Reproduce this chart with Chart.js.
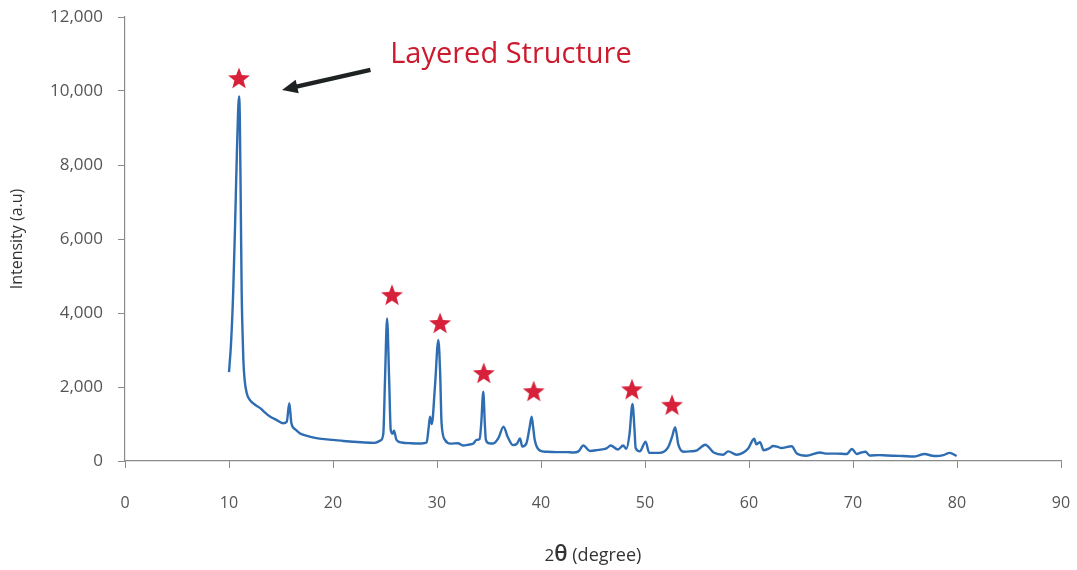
<!DOCTYPE html>
<html>
<head>
<meta charset="utf-8">
<script src="https://cdn.jsdelivr.net/npm/chart.js@4/dist/chart.umd.min.js"></script>
<style>
  html, body { margin: 0; padding: 0; background: #fff; }
  #wrap { width: 1077px; height: 570px; position: relative; }
</style>
</head>
<body>
<div id="wrap"><canvas id="xrd"></canvas></div>
<script>
(function () {
  'use strict';

  // ── XRD pattern (2θ in degrees, intensity a.u.) ────
  var twoTheta = [
    10.0, 10.2, 10.4, 10.58, 10.74, 10.88, 10.96, 11.04, 11.12, 11.22, 11.3, 11.38, 11.5, 11.7,
    12.0, 12.5, 13.0, 13.5, 13.94, 14.5, 15.2, 15.55, 15.8, 16.0, 16.4, 16.8, 17.5, 18.4, 19.2,
    20.0, 21.0, 22.0, 23.0, 24.0, 24.6, 24.84, 25.0, 25.2, 25.4, 25.55, 25.75, 25.87, 26.1, 26.6,
    27.5, 28.5, 29.0, 29.2, 29.33, 29.5, 29.8, 30.13, 30.3, 30.44, 30.77, 31.3, 32.0, 32.5, 33.0,
    33.5, 33.8, 34.1, 34.25, 34.45, 34.6, 34.7, 35.0, 35.4, 35.9, 36.4, 36.8, 37.3, 37.7, 37.98,
    38.2, 38.6, 38.9, 39.1, 39.25, 39.4, 39.9, 40.5, 41.5, 42.5, 43.1, 43.6, 44.07, 44.7, 45.5,
    46.3, 46.7, 47.4, 47.9, 48.2, 48.5, 48.8, 49.0, 49.1, 49.5, 50.06, 50.4, 51.4, 52.2, 52.6,
    52.9, 53.2, 53.7, 54.3, 55.0, 55.8, 56.6, 57.5, 58.0, 58.8, 59.4, 59.9, 60.5, 60.7, 61.06,
    61.4, 62.0, 62.3, 62.7, 63.1, 64.1, 64.6, 65.5, 66.8, 67.5, 68.4, 69.4, 69.9, 70.35, 70.8,
    71.2, 71.6, 72.5, 73.2, 74.0, 74.8, 75.8, 76.9, 77.5, 78.0, 78.7, 79.3, 79.97
  ];
  var intensity = [
    2400, 3200, 4540, 6330, 8135, 9500, 9850, 9300, 7240, 4540, 3500, 2730, 2200, 1840,
    1650, 1520, 1430, 1300, 1200, 1120, 1020, 1060, 1560, 1020, 850, 750, 680, 620, 590,
    570, 540, 520, 500, 490, 560, 745, 2190, 3850, 2190, 840, 740, 820, 570, 500,
    480, 475, 500, 900, 1200, 1000, 2000, 3270, 2400, 1020, 570, 470, 480, 420, 440,
    475, 570, 600, 1000, 1870, 1000, 570, 480, 475, 620, 930, 650, 430, 470, 610,
    390, 480, 900, 1200, 900, 570, 280, 250, 240, 240, 230, 260, 420, 270, 300,
    340, 420, 310, 420, 330, 700, 1540, 800, 350, 260, 520, 220, 220, 360, 650,
    915, 450, 250, 260, 290, 440, 230, 170, 260, 170, 220, 330, 600, 450, 510,
    290, 350, 405, 390, 350, 400, 200, 140, 230, 200, 200, 190, 325, 190, 230,
    250, 150, 160, 150, 140, 135, 120, 190, 150, 135, 160, 220, 135
  ];

  // peaks flagged with a star
  var starX = [10.96, 25.67, 30.3, 34.5, 39.3, 48.75, 52.6];
  var starY = [10350, 4490, 3730, 2380, 1890, 1940, 1520];

  var xTicks = { min: 0, max: 90, step: 10 };
  var yTicks = { min: 0, max: 12000, step: 2000 };

  var series = twoTheta.map(function (x, i) { return { x: x, y: intensity[i] }; });
  var stars = starX.map(function (x, i) { return { x: x, y: starY[i] }; });

  // filled five point star used as point image
  function starImage(size, color) {
    var c = document.createElement('canvas');
    c.width = size; c.height = size;
    var g = c.getContext('2d');
    var cx = size / 2, cy = size / 2 + 1, ro = size / 2 - 0.5, ri = ro * 0.42;
    g.beginPath();
    for (var k = 0; k < 10; k++) {
      var r = k % 2 === 0 ? ro : ri;
      var a = -Math.PI / 2 + k * Math.PI / 5;
      g.lineTo(cx + r * Math.cos(a), cy + r * Math.sin(a));
    }
    g.closePath();
    g.fillStyle = color;
    g.fill();
    return c;
  }

  var FONT = "'Open Sans', 'DejaVu Sans', sans-serif";
  var AXIS = '#8a8a8a';

  // ── annotation, arrow and the 2θ axis title ────────────────────────────────
  var extras = {
    id: 'extras',
    afterDraw: function (chart) {
      var ctx = chart.ctx;
      var xs = chart.scales.x, ys = chart.scales.y;
      ctx.save();

      ctx.fillStyle = '#cc1a2e';
      ctx.font = '29px ' + FONT;
      ctx.textBaseline = 'alphabetic';
      ctx.textAlign = 'left';
      ctx.fillText('Layered Structure', xs.getPixelForValue(25.5), ys.getPixelForValue(10760));

      var x1 = xs.getPixelForValue(23.6), y1 = ys.getPixelForValue(10570);
      var x2 = xs.getPixelForValue(15.1), y2 = ys.getPixelForValue(10030);
      var ang = Math.atan2(y2 - y1, x2 - x1);
      var head = 17;
      ctx.strokeStyle = '#1e2222';
      ctx.fillStyle = '#1e2222';
      ctx.lineWidth = 4.5;
      ctx.beginPath();
      ctx.moveTo(x1, y1);
      ctx.lineTo(x2 - Math.cos(ang) * head * 0.8, y2 - Math.sin(ang) * head * 0.8);
      ctx.stroke();
      ctx.beginPath();
      ctx.moveTo(x2, y2);
      ctx.lineTo(x2 - head * Math.cos(ang - 0.42), y2 - head * Math.sin(ang - 0.42));
      ctx.lineTo(x2 - head * Math.cos(ang + 0.42), y2 - head * Math.sin(ang + 0.42));
      ctx.closePath();
      ctx.fill();

      // x title with an enlarged theta
      var parts = [
        { t: '2', f: '17px ' + FONT },
        { t: 'θ', f: '600 22px ' + FONT },
        { t: ' (degree)', f: '18px ' + FONT }
      ];
      var total = 0;
      parts.forEach(function (p) { ctx.font = p.f; p.w = ctx.measureText(p.t).width; total += p.w; });
      var cx = (chart.chartArea.left + chart.chartArea.right) / 2 - total / 2;
      ctx.fillStyle = '#333';
      parts.forEach(function (p) {
        ctx.font = p.f;
        ctx.fillText(p.t, cx, 561);
        cx += p.w;
      });
      ctx.restore();
    }
  };

  new Chart(document.getElementById('xrd'), {
    type: 'scatter',
    data: {
      datasets: [{
        data: series,
        showLine: true,
        borderColor: '#2f6db3',
        borderWidth: 2.4,
        pointRadius: 0,
        cubicInterpolationMode: 'monotone',
        order: 2
      }, {
        data: stars,
        showLine: false,
        pointStyle: starImage(24, '#d7213a'),
        pointRadius: 12,
        order: 1
      }]
    },
    options: {
      responsive: true,
      maintainAspectRatio: false,
      animation: false,
      locale: 'en-US',
      layout: { padding: { left: 0, right: 16, top: 17, bottom: 0 } },
      plugins: {
        legend: { display: false },
        tooltip: { enabled: false }
      },
      scales: {
        x: {
          type: 'linear',
          min: xTicks.min,
          max: xTicks.max,
          ticks: {
            stepSize: xTicks.step,
            color: '#555',
            padding: 26,
            font: { family: FONT, size: 16 }
          },
          grid: { drawOnChartArea: false, drawTicks: true, tickLength: 7, color: AXIS },
          border: { display: true, color: AXIS, width: 1.2 },
          afterFit: function (s) {
            s.height = 109;
            s.paddingLeft = 0;
            s.paddingRight = 0;
          }
        },
        y: {
          min: yTicks.min,
          max: yTicks.max,
          ticks: {
            stepSize: yTicks.step,
            color: '#555',
            padding: 15,
            font: { family: FONT, size: 17 }
          },
          title: {
            display: true,
            text: 'Intensity (a.u)',
            color: '#333',
            font: { family: FONT, size: 16 },
            padding: { top: 8, bottom: 0 }
          },
          grid: { drawOnChartArea: false, drawTicks: true, tickLength: 7, color: AXIS },
          border: { display: true, color: AXIS, width: 1.2 },
          afterFit: function (s) {
            s.width = 125;
            s.paddingTop = 0;
            s.paddingBottom = 0;
          }
        }
      }
    },
    plugins: [extras]
  });
}());
</script>
</body>
</html>
